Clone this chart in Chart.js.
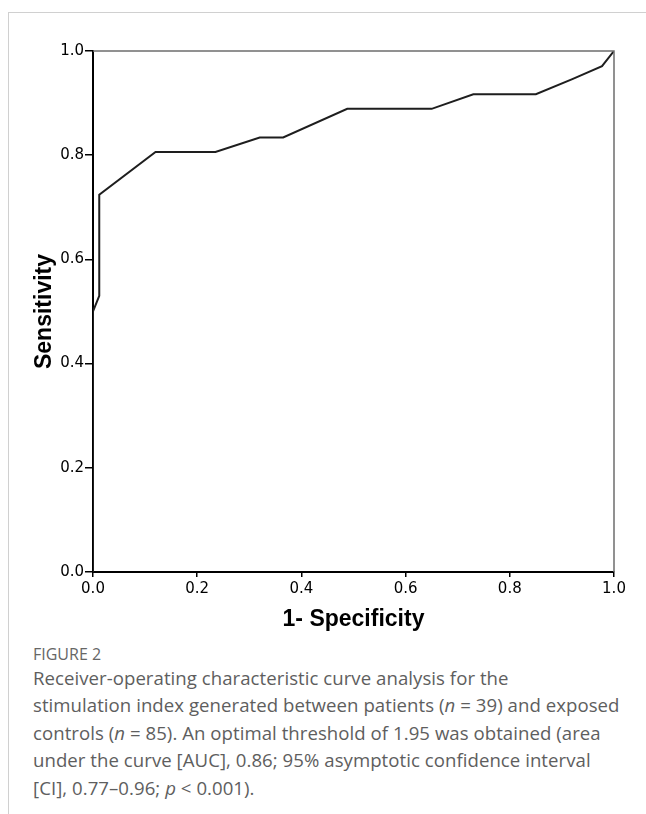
<!DOCTYPE html>
<html>
<head>
<meta charset="utf-8">
<script src="https://cdn.jsdelivr.net/npm/chart.js@4.4.0/dist/chart.umd.min.js"></script>
<style>
html, body { margin: 0; padding: 0; background: #fff; }
body { width: 646px; height: 814px; position: relative; overflow: hidden; }
.frame { position: absolute; left: 8px; top: 12px; width: 700px; height: 900px;
  border-top: 1px solid #d0d0d0; border-left: 1px solid #d0d0d0; }
.plot { position: absolute; left: 0; top: 0; width: 646px; height: 640px; }
.caption { position: absolute; left: 33px; top: 644px; width: 610px; white-space: nowrap;
  font-family: "Open Sans", sans-serif; color: #5e5e5e; }
.caption .label { font-size: 16px; line-height: 20px; color: #666; }
.caption .body { font-size: 18.6px; line-height: 27.4px; letter-spacing: 0.05px; }
</style>
</head>
<body>
<div class="frame"></div>
<div class="plot"><canvas id="rocChart"></canvas></div>
<div class="caption">
<div class="label">FIGURE 2</div>
<div class="body">Receiver-operating characteristic curve analysis for the<br>stimulation index generated between patients (<i>n</i> = 39) and exposed<br>controls (<i>n</i> = 85). An optimal threshold of 1.95 was obtained (area<br>under the curve [AUC], 0.86; 95% asymptotic confidence interval<br>[CI], 0.77–0.96; <i>p</i> &lt; 0.001).</div>
</div>

<script>
// ROC curve points
const falsePositiveRate = [0, 0, 0.012, 0.012, 0.12, 0.235, 0.32, 0.365, 0.488, 0.65, 0.73, 0.85, 0.92, 0.977, 1];
const sensitivity = [0, 0.5, 0.53, 0.724, 0.806, 0.806, 0.834, 0.834, 0.889, 0.889, 0.917, 0.917, 0.946, 0.971, 1];
const tickValues = [0, 0.2, 0.4, 0.6, 0.8, 1.0];

const points = falsePositiveRate.map((x, i) => ({ x: x, y: sensitivity[i] }));

// top and right sides of the box
const boxPlugin = {
  id: "box",
  afterDraw(chart) {
    const { ctx, chartArea } = chart;
    ctx.save();
    ctx.strokeStyle = "#6e6e6e";
    ctx.lineWidth = 1.5;
    ctx.beginPath();
    ctx.moveTo(chartArea.left, chartArea.top);
    ctx.lineTo(chartArea.right, chartArea.top);
    ctx.lineTo(chartArea.right, chartArea.bottom);
    ctx.stroke();
    ctx.restore();
  }
};

const tickFont = { family: "DejaVu Sans", size: 15 };
const titleFont = { family: "Liberation Sans", size: 23, weight: "bold" };

new Chart(document.getElementById("rocChart"), {
  type: "scatter",
  data: {
    datasets: [{
      data: points,
      showLine: true,
      borderColor: "#1e1e1e",
      borderWidth: 2,
      pointRadius: 0,
      tension: 0,
      fill: false
    }]
  },
  options: {
    responsive: true,
    maintainAspectRatio: false,
    animation: false,
    layout: { padding: { left: 0, top: 51, right: 32, bottom: 0 } },
    plugins: { legend: { display: false }, tooltip: { enabled: false } },
    scales: {
      x: {
        type: "linear",
        min: 0,
        max: 1,
        afterBuildTicks: (scale) => { scale.ticks = tickValues.map(v => ({ value: v })); },
        afterFit: (scale) => { scale.height = 68; },
        ticks: { color: "#000", font: tickFont, padding: 3, callback: v => v.toFixed(1) },
        grid: { drawOnChartArea: false, drawTicks: true, tickLength: 5, color: "#000", lineWidth: 1.5 },
        border: { display: true, color: "#000", width: 2 },
        title: { display: true, text: "1- Specificity", color: "#000", font: titleFont, padding: { top: 0, bottom: 7 } }
      },
      y: {
        type: "linear",
        min: 0,
        max: 1,
        afterBuildTicks: (scale) => { scale.ticks = tickValues.map(v => ({ value: v })); },
        afterFit: (scale) => { scale.width = 93; },
        ticks: { color: "#000", font: tickFont, padding: 1, callback: v => v.toFixed(1) },
        grid: { drawOnChartArea: false, drawTicks: true, tickLength: 8, color: "#000", lineWidth: 1.5 },
        border: { display: true, color: "#000", width: 2 },
        title: { display: true, text: "Sensitivity", color: "#000", font: titleFont, padding: { top: 31, bottom: 0 } }
      }
    }
  },
  plugins: [boxPlugin]
});
</script>
</body>
</html>
